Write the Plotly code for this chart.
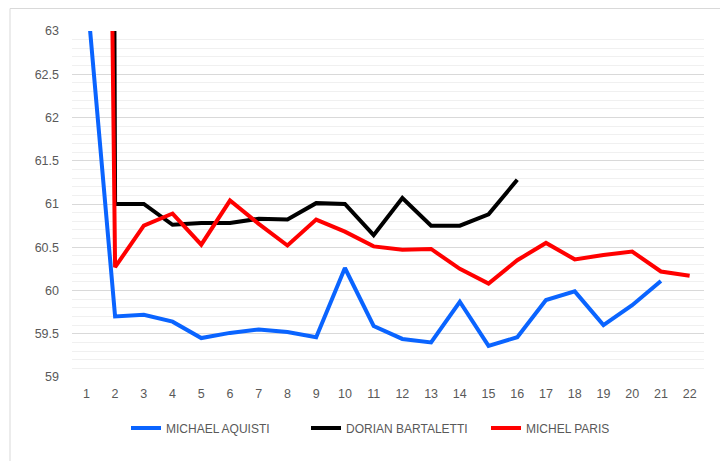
import plotly.graph_objects as go

laps = list(range(1, 23))

aquisti = [63.5, 59.70, 59.72, 59.64, 59.45, 59.51, 59.55, 59.52, 59.46, 60.26, 59.59,
           59.44, 59.40, 59.87, 59.36, 59.46, 59.89, 59.99, 59.60, 59.83, 60.11]
bartaletti = [150.0, 61.00, 61.00, 60.76, 60.78, 60.78, 60.83, 60.82, 61.01, 61.00, 60.64,
              61.07, 60.75, 60.75, 60.88, 61.28]
paris = [90.0, 60.27, 60.75, 60.89, 60.53, 61.04, 60.77, 60.52, 60.82, 60.68, 60.51,
         60.47, 60.48, 60.25, 60.08, 60.35, 60.55, 60.36, 60.41, 60.45, 60.22, 60.17]

names = ["MICHAEL AQUISTI", "DORIAN BARTALETTI", "MICHEL PARIS"]
colors = ["#0A64FF", "#000000", "#FF0000"]
series = [aquisti, bartaletti, paris]

fig = go.Figure()
for name, col, vals in zip(names, colors, series):
    fig.add_trace(go.Scatter(
        x=laps[:len(vals)], y=vals, name=name, mode="lines",
        line=dict(color=col, width=4, shape="linear"),
    ))

OFF = 8  # page body margin
W, H = 728 - OFF, 461 - OFF
L, R, T, B = 72 - OFF, 24, 31 - OFF, 84
pw, ph = W - L - R, H - T - B


def px(xp):
    return (xp - OFF - L) / pw


def py(yp):
    return (H - B - (yp - OFF)) / ph


fig.update_layout(
    width=W, height=H,
    margin=dict(l=L, r=R, t=T, b=B),
    paper_bgcolor="white", plot_bgcolor="white",
    font=dict(family="Liberation Sans, Arial, sans-serif", size=12.5, color="#595959"),
    showlegend=True,
    legend=dict(
        orientation="h", x=px(396), xanchor="center",
        y=py(428), yanchor="middle",
        font=dict(family="Liberation Sans Narrow, Arial Narrow, Liberation Sans, sans-serif",
                  size=12, color="#595959"),
        itemwidth=30, entrywidth=135,
    ),
    xaxis=dict(
        range=[0.5, 22.5], tickmode="array", tickvals=laps,
        ticktext=[str(v) for v in laps],
        showgrid=False, zeroline=False, showline=False, ticks="",
        ticklabelstandoff=7,
    ),
    yaxis=dict(
        range=[59, 63], dtick=0.5, tick0=59,
        showgrid=True, gridcolor="#D9D9D9", gridwidth=1,
        minor=dict(dtick=0.1, showgrid=True, gridcolor="#F0F0F0", gridwidth=1),
        zeroline=False, showline=False, ticks="",
        ticklabelstandoff=12,
    ),
    shapes=[dict(
        type="rect", xref="paper", yref="paper",
        x0=px(10), x1=px(723),
        y0=py(490), y1=py(8.5),
        line=dict(color="#D9D9D9", width=1), fillcolor="rgba(0,0,0,0)", layer="below",
    )],
)

fig.write_html("out.html")
